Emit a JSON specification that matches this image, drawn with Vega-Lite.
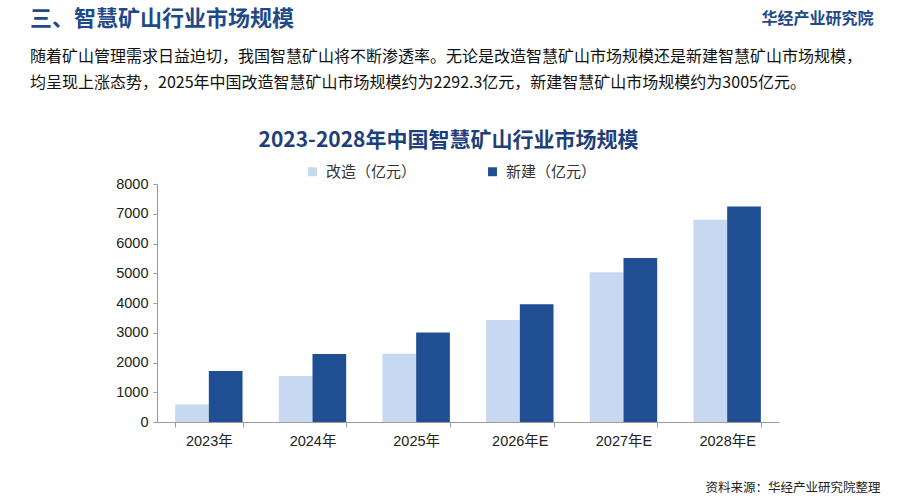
{
  "$schema": "https://vega.github.io/schema/vega-lite/v6.json",
  "width": 622,
  "height": 238,
  "autosize": {"type": "none"},
  "padding": {"top": 184, "left": 157, "right": 121, "bottom": 78},
  "background": "white",
  "config": {
    "view": {"stroke": null},
    "font": "Noto Sans CJK SC",
    "axis": {
      "labelFont": "Liberation Sans, Noto Sans CJK SC",
      "titleFont": "Noto Sans CJK SC",
      "labelColor": "#222222",
      "domainColor": "#9a9a9a",
      "tickColor": "#9a9a9a"
    }
  },
  "title": {
    "text": "三、智慧矿山行业市场规模",
    "subtitle": [
      "随着矿山管理需求日益迫切，我国智慧矿山将不断渗透率。无论是改造智慧矿山市场规模还是新建智慧矿山市场规模，",
      "均呈现上涨态势，2025年中国改造智慧矿山市场规模约为2292.3亿元，新建智慧矿山市场规模约为3005亿元。"
    ],
    "anchor": "start",
    "frame": "group",
    "dx": -127,
    "dy": 82,
    "font": "Noto Sans CJK SC",
    "fontSize": 22,
    "fontWeight": "bold",
    "color": "#1f4a8a",
    "subtitleFont": "Noto Sans CJK SC",
    "subtitleFontSize": 16,
    "subtitleColor": "#111111",
    "subtitleLineHeight": 26,
    "subtitlePadding": 18,
    "offset": 0
  },
  "data": {
    "values": [
      {"year": "2023年", "type": "改造（亿元）", "value": 590},
      {"year": "2023年", "type": "新建（亿元）", "value": 1716},
      {"year": "2024年", "type": "改造（亿元）", "value": 1549},
      {"year": "2024年", "type": "新建（亿元）", "value": 2284},
      {"year": "2025年", "type": "改造（亿元）", "value": 2292.3},
      {"year": "2025年", "type": "新建（亿元）", "value": 3005},
      {"year": "2026年E", "type": "改造（亿元）", "value": 3432},
      {"year": "2026年E", "type": "新建（亿元）", "value": 3955},
      {"year": "2027年E", "type": "改造（亿元）", "value": 5036},
      {"year": "2027年E", "type": "新建（亿元）", "value": 5515},
      {"year": "2028年E", "type": "改造（亿元）", "value": 6797},
      {"year": "2028年E", "type": "新建（亿元）", "value": 7242}
    ]
  },
  "encoding": {
    "xOffset": {
      "field": "type",
      "type": "nominal",
      "scale": {"domain": ["改造（亿元）", "新建（亿元）"], "paddingInner": 0, "paddingOuter": 0}
    },
    "y": {
      "field": "value",
      "type": "quantitative",
      "scale": {"domain": [0, 8000]},
      "axis": {
        "values": [0, 1000, 2000, 3000, 4000, 5000, 6000, 7000, 8000],
        "format": "d",
        "grid": false,
        "tickSize": 4,
        "labelFontSize": 14.5,
        "labelPadding": 5,
        "title": "华经产业研究院",
        "titleAngle": 0,
        "titleX": 716,
        "titleY": -166,
        "titleAlign": "right",
        "titleBaseline": "middle",
        "titleFontSize": 16,
        "titleFontWeight": "bold",
        "titleColor": "#1f4a8a"
      }
    },
    "color": {
      "field": "type",
      "type": "nominal",
      "scale": {"domain": ["改造（亿元）", "新建（亿元）"], "range": ["#c6d9f1", "#1f4e93"]},
      "legend": {
        "title": null,
        "orient": "none",
        "legendX": 148,
        "legendY": -20,
        "direction": "horizontal",
        "symbolType": "square",
        "symbolSize": 80,
        "symbolStrokeWidth": 0,
        "labelFontSize": 15,
        "labelColor": "#333333",
        "labelOffset": 6,
        "columnPadding": 68
      }
    }
  },
  "resolve": {"axis": {"x": "independent"}},
  "layer": [
    {
      "transform": [{"filter": "datum.type === '改造（亿元）'"}],
      "mark": {"type": "bar"},
      "encoding": {
        "x": {
          "field": "year",
          "type": "nominal",
          "sort": null,
          "scale": {"paddingInner": 0.35, "paddingOuter": 0.175},
          "axis": {
            "orient": "bottom",
            "labelAngle": 0,
            "labelFontSize": 14.5,
            "labelPadding": 7,
            "tickBand": "extent",
            "tickSize": 5,
            "title": "资料来源：华经产业研究院整理",
            "titleX": 723,
            "titleY": 65,
            "titleAlign": "right",
            "titleBaseline": "middle",
            "titleFontSize": 12.5,
            "titleFontWeight": "normal",
            "titleColor": "#222222"
          }
        }
      }
    },
    {
      "transform": [{"filter": "datum.type === '新建（亿元）'"}],
      "mark": {"type": "bar"},
      "encoding": {
        "x": {
          "field": "year",
          "type": "nominal",
          "sort": null,
          "scale": {"paddingInner": 0.35, "paddingOuter": 0.175},
          "axis": {
            "orient": "top",
            "labels": false,
            "ticks": false,
            "domain": false,
            "title": "2023-2028年中国智慧矿山行业市场规模",
            "titleX": 291,
            "titleY": -44,
            "titleAlign": "center",
            "titleBaseline": "middle",
            "titleFontSize": 21,
            "titleFontWeight": "bold",
            "titleColor": "#1f3f7a"
          }
        }
      }
    }
  ]
}
